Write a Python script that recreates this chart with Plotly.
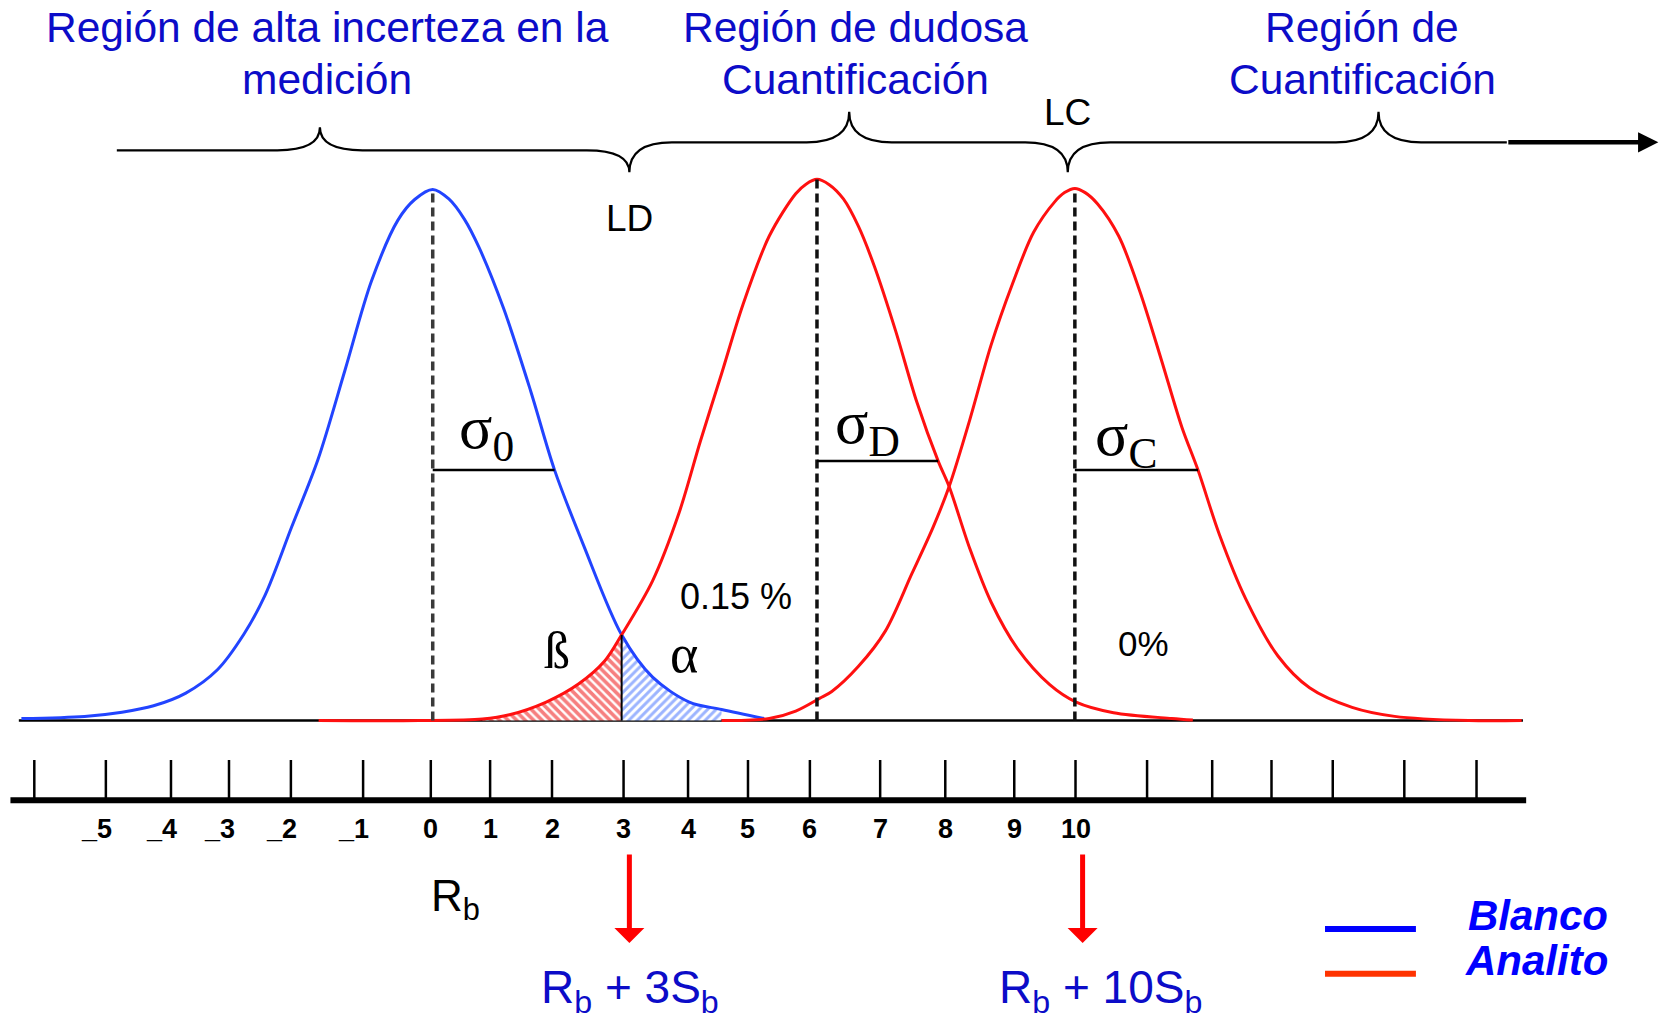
import plotly.graph_objects as go

# ---------------- data ----------------
# x in ruler units, y relative to the blank peak height
blanco_x = [-6.35, -5.37, -4.79, -4.30, -3.80, -3.31, -2.90, -2.57, -2.16, -1.75, -1.33, -0.92, -0.51, -0.25,
            0.03, 0.28, 0.52, 0.75, 1.13, 1.55, 1.92, 2.37, 2.96, 3.44, 4.01, 4.51, 5.17]
blanco_y = [0.004, 0.008, 0.016, 0.028, 0.052, 0.096, 0.163, 0.237, 0.365, 0.493, 0.662, 0.830, 0.945, 0.984,
            1.003, 0.985, 0.947, 0.893, 0.778, 0.622, 0.473, 0.331, 0.162, 0.082, 0.035, 0.021, 0.004]

ld_x = [-1.74, -0.18, 0.80, 1.22, 1.79, 2.29, 2.70, 2.96, 3.44, 3.85, 4.18, 4.51, 4.84, 5.25, 5.66, 5.82,
        5.99, 6.18, 6.40, 6.63, 6.88, 7.21, 7.54, 7.87, 8.04, 8.36, 8.69, 9.10, 9.60, 10.01, 10.59, 11.49, 11.82]
ld_y = [0.0, 0.0, 0.003, 0.011, 0.035, 0.069, 0.113, 0.162, 0.264, 0.392, 0.527, 0.655, 0.785, 0.915, 0.995, 1.013,
        1.022, 1.012, 0.985, 0.934, 0.858, 0.736, 0.601, 0.490, 0.442, 0.325, 0.224, 0.136, 0.068, 0.035, 0.015, 0.004, 0.001]

lc_x = [4.51, 5.25, 5.66, 6.03, 6.22, 6.63, 7.05, 7.46, 7.79, 8.04, 8.36, 8.69, 9.02, 9.35, 9.68, 9.83, 9.99,
        10.15, 10.34, 10.67, 11.00, 11.33, 11.65, 11.90, 12.23, 12.64, 13.14, 13.63, 14.29, 14.95, 16.10, 16.92]
lc_y = [0.0, 0.004, 0.018, 0.042, 0.055, 0.102, 0.169, 0.277, 0.365, 0.442, 0.568, 0.709, 0.824, 0.922, 0.980, 0.997, 1.005,
        0.997, 0.976, 0.915, 0.810, 0.682, 0.554, 0.473, 0.352, 0.230, 0.122, 0.062, 0.025, 0.008, 0.0, 0.0]

# sigma marks (end of horizontal segment on each curve)
sigma_end_x = [1.92, 7.87, 11.90]
sigma_end_y = [0.473, 0.490, 0.473]
sigma_text = ["σ<sub>0</sub>", "σ<sub>D</sub>", "σ<sub>C</sub>"]
sigma_text_x = [0.86, 6.78, 10.78]
sigma_text_y = [0.545, 0.555, 0.532]

# beta / alpha tails
beta_range = [0.80, 2.96]
alpha_range = [2.96, 4.51]
cross_x = 2.96
cross_y = 0.162

# ruler
tick_pos = [-6.15, -5.04, -4.03, -3.13, -2.17, -1.05, 0.0, 0.92, 1.88, 2.99, 3.99, 4.92, 5.88, 6.97,
            7.98, 9.05, 10.0, 11.11, 12.12, 13.04, 13.99, 15.10, 16.22]
tick_labels = ["_5", "_4", "_3", "_2", "_1", "0", "1", "2", "3", "4", "5", "6", "7", "8", "9", "10"]
label_pos = tick_pos[1:17]

# region titles
region_line1 = ["Región de alta incerteza en la", "Región de dudosa", "Región de"]
region_line2 = ["medición", "Cuantificación", "Cuantificación"]
region_x = [-1.61, 6.585, 14.45]

# brace key points: start, peak1, tip(LD), peak2, tip(LC), peak3, end
brace_x = [-4.87, -1.72, 3.08, 6.49, 9.88, 14.70, 16.69]
arrow_end_x = 19.04

# bottom markers
marker_x = [3.08, 10.11]
marker_text = ["R<sub>b</sub> + 3S<sub>b</sub>", "R<sub>b</sub> + 10S<sub>b</sub>"]
marker_text_x = [3.09, 10.38]

# ---------------- style ----------------
SANS = "Liberation Sans, Arial, sans-serif"
SERIF = "Liberation Serif, Times New Roman, serif"
TITLE_BLUE = "#0c0cc8"
CURVE_BLUE = "#2244ff"
CURVE_RED = "#ff1010"

X_RANGE = [-6.682, 19.128]
Y_RANGE = [-0.5653, 1.3607]

fig = go.Figure()

def segment(xs, ys, lo, hi):
    px, py = [], []
    for a, b in zip(xs, ys):
        if lo - 1e-9 <= a <= hi + 1e-9:
            px.append(a)
            py.append(b)
    return px, py

# hatched tails
bx, by = segment(ld_x, ld_y, *beta_range)
fig.add_trace(go.Scatter(x=bx, y=by, mode="lines", fill="tozeroy", line=dict(width=0, shape="spline"),
                         fillcolor="rgba(0,0,0,0)",
                         fillpattern=dict(shape="\\", fgcolor="#ee0000", bgcolor="white", size=6, solidity=0.6),
                         hoverinfo="skip", showlegend=False))
ax_, ay_ = segment(blanco_x, blanco_y, *alpha_range)
fig.add_trace(go.Scatter(x=ax_, y=ay_, mode="lines", fill="tozeroy", line=dict(width=0, shape="spline"),
                         fillcolor="rgba(0,0,0,0)",
                         fillpattern=dict(shape="/", fgcolor="#3a6aff", bgcolor="white", size=6, solidity=0.5),
                         hoverinfo="skip", showlegend=False))

# curves
for xs, ys, col in [(blanco_x, blanco_y, CURVE_BLUE), (ld_x, ld_y, CURVE_RED), (lc_x, lc_y, CURVE_RED)]:
    fig.add_trace(go.Scatter(x=xs, y=ys, mode="lines", line=dict(color=col, width=3, shape="spline", smoothing=0.9),
                             hoverinfo="skip", showlegend=False))

shapes = []
# baseline
shapes.append(dict(type="line", xref="x", yref="y", x0=-6.39, x1=16.94, y0=0, y1=0,
                   line=dict(color="black", width=2.5), layer="below"))

# dashed centre lines and sigma segments
curves = [(blanco_x, blanco_y), (ld_x, ld_y), (lc_x, lc_y)]
dash_cols = ["#3a3a3a", "#111111", "#111111"]
for i, (xs, ys) in enumerate(curves):
    k = ys.index(max(ys))
    cx, cy = xs[k], ys[k]
    shapes.append(dict(type="line", xref="x", yref="y", x0=cx, x1=cx, y0=0, y1=cy,
                       line=dict(color=dash_cols[i], width=3.5, dash="9px,5px")))
    shapes.append(dict(type="line", xref="x", yref="y", x0=cx, x1=sigma_end_x[i],
                       y0=sigma_end_y[i], y1=sigma_end_y[i], line=dict(color="black", width=2.5)))

# crossing line
shapes.append(dict(type="line", xref="x", yref="y", x0=cross_x, x1=cross_x, y0=0, y1=cross_y,
                   line=dict(color="black", width=2)))

# ruler
ruler_y = -0.1505
tick_top = -0.0744
shapes.append(dict(type="line", xref="x", yref="y", x0=-6.52, x1=16.99, y0=ruler_y, y1=ruler_y,
                   line=dict(color="black", width=6)))
for t in tick_pos:
    shapes.append(dict(type="line", xref="x", yref="y", x0=t, x1=t, y0=ruler_y, y1=tick_top,
                       line=dict(color="black", width=2.5)))

# brace
y1, y2, ypk1, ypk2, ytip, w = 1.0769, 1.092, 1.1203, 1.1497, 1.0353, 0.66
s, p1, t1, p2, t2, p3, e = brace_x
path = (f"M{s},{y1} L{p1-w},{y1} Q{p1},{y1} {p1},{ypk1} Q{p1},{y1} {p1+w},{y1} "
        f"L{t1-w},{y1} Q{t1},{y1} {t1},{ytip} Q{t1},{y2} {t1+w},{y2} "
        f"L{p2-w},{y2} Q{p2},{y2} {p2},{ypk2} Q{p2},{y2} {p2+w},{y2} "
        f"L{t2-w},{y2} Q{t2},{y2} {t2},{ytip} Q{t2},{y2} {t2+w},{y2} "
        f"L{p3-w},{y2} Q{p3},{y2} {p3},{ypk2} Q{p3},{y2} {p3+w},{y2} L{e},{y2}")
shapes.append(dict(type="path", xref="x", yref="y", path=path, fillcolor="rgba(0,0,0,0)",
                   line=dict(color="black", width=2.2)))

# legend lines
shapes.append(dict(type="line", xref="x", yref="y", x0=13.87, x1=15.28, y0=-0.3935, y1=-0.3935,
                   line=dict(color="#0000ff", width=6)))
shapes.append(dict(type="line", xref="x", yref="y", x0=13.87, x1=15.28, y0=-0.478, y1=-0.478,
                   line=dict(color="#ff3300", width=6)))

ann = []
def text(x, y, t, size, color="black", family=SANS, xanchor="center", xshift=0, weight="normal"):
    ann.append(dict(x=x, y=y, xref="x", yref="y", text=t, showarrow=False, xanchor=xanchor, yanchor="middle",
                    xshift=xshift, font=dict(size=size, color=color, family=family, weight=weight)))

for l1, l2, x in zip(region_line1, region_line2, region_x):
    text(x, 1.3087, l1, 42.5, TITLE_BLUE)
    text(x, 1.2115, l2, 42.5, TITLE_BLUE)

text(brace_x[2], 0.948, "LD", 37)
text(brace_x[4], 1.1486, "LC", 37)

for t, x, y in zip(sigma_text, sigma_text_x, sigma_text_y):
    text(x, y, t, 62, family=SERIF)

text(1.96, 0.133, "ß", 52, family=SERIF)
text(3.93, 0.125, "α", 54, family=SERIF)
text(4.73, 0.2343, "0.15 %", 36)
text(11.06, 0.1465, "0%", 35)

for lab, x in zip(tick_labels, label_pos):
    if lab.startswith("_"):
        text(x, -0.2043, lab, 27, xanchor="right", xshift=8, weight="bold")
    else:
        text(x, -0.2043, lab, 27, weight="bold")

text(0.39, -0.336, "R<sub>b</sub>", 44)
for t, x in zip(marker_text, marker_text_x):
    text(x, -0.510, t, 46, TITLE_BLUE)

text(18.29, -0.368, "<i>Blanco</i>", 42, "#0000ff", xanchor="right", weight="bold")
text(18.29, -0.453, "<i>Analito</i>", 42, "#0000ff", xanchor="right", weight="bold")

# arrows
ann.append(dict(x=arrow_end_x, y=y2, ax=brace_x[-1], ay=y2, xref="x", yref="y", axref="x", ayref="y",
                text="", showarrow=True, arrowhead=2, arrowsize=0.9, arrowwidth=4.5, arrowcolor="black",
                standoff=0, startstandoff=0))
for x in marker_x:
    ann.append(dict(x=x, y=-0.420, ax=x, ay=-0.250, xref="x", yref="y", axref="x", ayref="y",
                    text="", showarrow=True, arrowhead=1, arrowsize=1.0, arrowwidth=5, arrowcolor="#ff0000",
                    standoff=0, startstandoff=0))

fig.update_layout(
    width=1664, height=1020, autosize=False,
    margin=dict(l=0, r=0, t=0, b=0),
    paper_bgcolor="white", plot_bgcolor="white",
    xaxis=dict(range=X_RANGE, visible=False, fixedrange=True),
    yaxis=dict(range=Y_RANGE, visible=False, fixedrange=True),
    shapes=shapes, annotations=ann, showlegend=False,
)

fig.write_html("out.html", config={"displayModeBar": False},
               post_script="document.body.style.margin='0px';document.body.style.padding='0px';")
